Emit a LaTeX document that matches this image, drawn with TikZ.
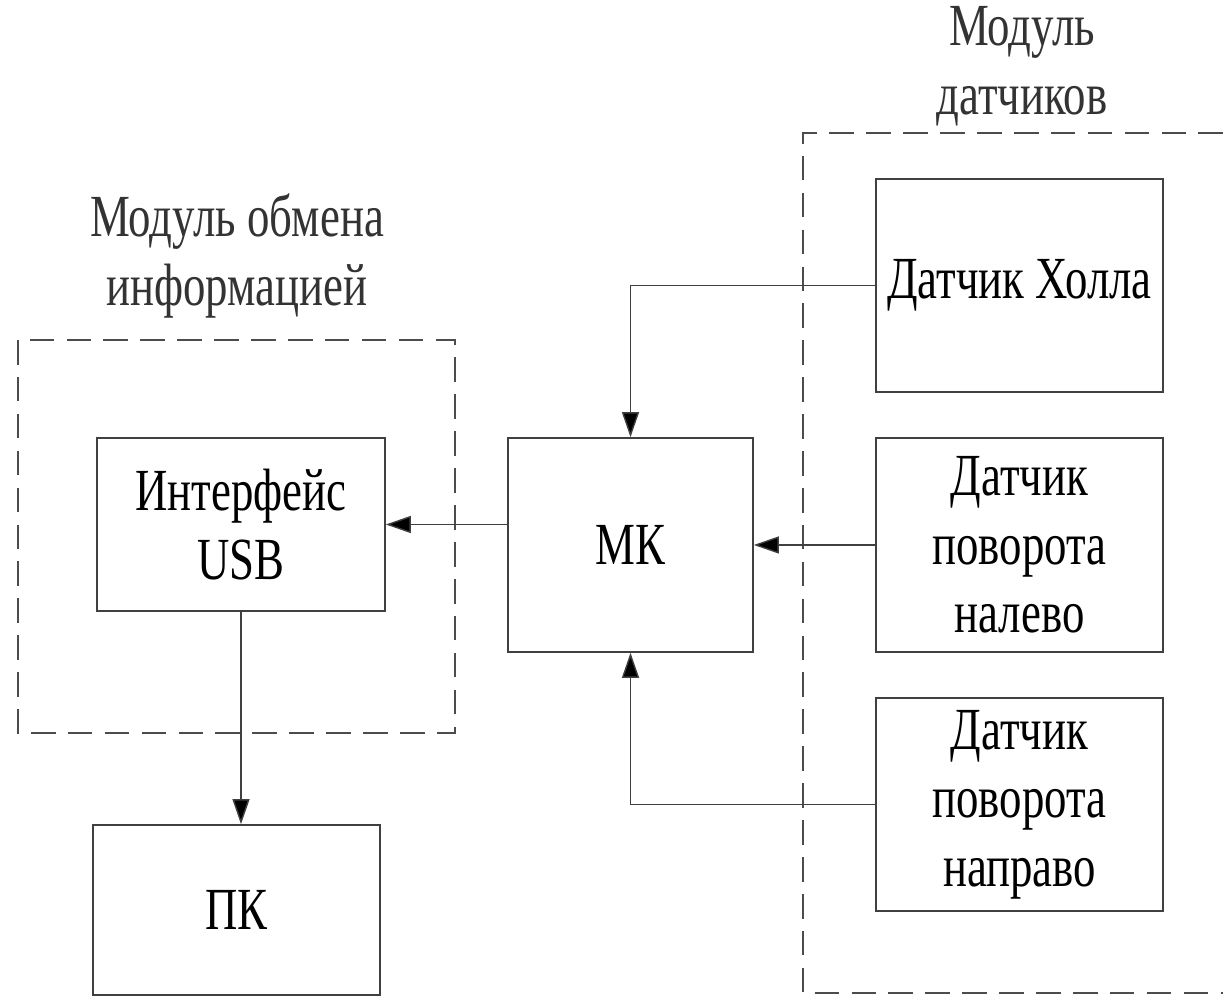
\documentclass[tikz,border=0pt]{standalone}
\usepackage{fontspec}
\setmainfont{Liberation Serif}[FakeStretch=0.75]
\usetikzlibrary{arrows.meta}

\tikzset{
  block/.style={draw=black!75, line width=0.9pt, align=center, inner sep=0pt,
    font=\fontsize{34}{39}\selectfont},
  link/.style={draw=black!75, line width=0.8pt,
    -{Triangle[length=0.5cm, width=0.34cm, fill=black]}},
  module/.style={draw=black!70, line width=0.9pt, dash pattern=on 14pt off 7pt},
  caption/.style={align=center, font=\fontsize{34}{39}\selectfont, text=black!80}
}

\begin{document}
\begin{tikzpicture}
	\useasboundingbox (0,0) rectangle (24.46,19.92);

	% module frames
	\draw[module] (0.36,13.12) rectangle (9.10,5.26);
	\draw[module] (24.46,17.26) -| (16.06,0.06) -- (24.46,0.06);
	\node[caption] (capa) at (4.74,14.8) {Модуль обмена\\информацией};
	\node[caption] (capb) at (20.44,18.6) {Модуль\\датчиков};

	% blocks
	\node[block, minimum width=5.76cm, minimum height=3.46cm] (usb) at (4.82,9.43) {Интерфейс\\USB};
	\node[block, minimum width=5.74cm, minimum height=3.4cm] (pc) at (4.73,1.72) {ПК};
	\node[block, minimum width=4.9cm, minimum height=4.28cm] (mcu) at (12.61,9.02) {МК};
	\node[block, minimum width=5.74cm, minimum height=4.26cm] (hall) at (20.39,14.21) {Датчик Холла};
	\node[block, minimum width=5.74cm, minimum height=4.28cm] (turnl) at (20.39,9.02) {Датчик\\поворота\\налево};
	\node[block, minimum width=5.74cm, minimum height=4.26cm] (turnr) at (20.39,3.83) {Датчик\\поворота\\направо};

	% links
	\draw[link] (hall.west) -| (mcu.north);
	\draw[link] (turnl.west) -- (mcu.east);
	\draw[link] (turnr.west) -| (mcu.south);
	\draw[link] (mcu.west |- usb.east) -- (usb.east);
	\draw[link] (usb.south) -- (usb.south |- pc.north);
\end{tikzpicture}
\end{document}
